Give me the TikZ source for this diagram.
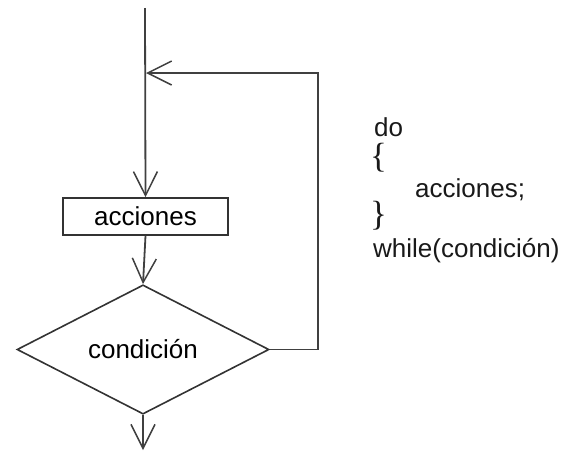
\documentclass[tikz,border=0pt]{standalone}
\usepackage{fontspec}
\setmainfont{Liberation Sans}
\newfontfamily\bracefont{Liberation Serif}
\usetikzlibrary{arrows.meta,shapes.geometric}
\tikzset{
  flow/.style={draw=black!75, line width=1.8pt},
  tip/.style={-{Straight Barb[length=24pt,width=24pt,line width=1.5pt]}},
  stepbox/.style={draw=black!80, line width=1.6pt, minimum width=165pt, minimum height=37pt, inner sep=0pt, font=\fontsize{26}{30}\selectfont},
  decision/.style={diamond, draw=black!80, line width=1.6pt, minimum width=252pt, minimum height=125pt, inner sep=0pt, font=\fontsize{26}{30}\selectfont},
  code/.style={anchor=base west, inner sep=0pt, font=\fontsize{26}{30}\selectfont, text=black!90},
  brace/.style={anchor=base west, inner sep=0pt, font=\bracefont\fontsize{35}{36}\selectfont, text=black!90}
}
\begin{document}
\begin{tikzpicture}[x=1pt,y=-1pt]
\useasboundingbox (0,0) rectangle (566,453);
\coordinate (top) at (145,8);
\node[stepbox] (act) at (145.5,216.5) {acciones};
\node[decision] (cond) at (143,349.5) {condición};
\coordinate (bot) at (143,450);
\coordinate (loopc) at (318,73);
\coordinate (merge) at (146,73);
\draw[flow,tip] (top) -- (act.north);
\draw[flow,tip] (act.south) -- (cond.north);
\draw[flow,tip] (cond.south) -- (bot);
\draw[flow,tip] (cond.east) -| (loopc) -- (merge);
\node[code] (l1) at (374,136) {do};
\node[brace] (l2) at (370,167) {\{};
\node[brace] (l4) at (370,225) {\}};
\node[code] (l3) at (415,197) {acciones;};
\node[code] (l5) at (373,257) {while(condición)};
\end{tikzpicture}
\end{document}
